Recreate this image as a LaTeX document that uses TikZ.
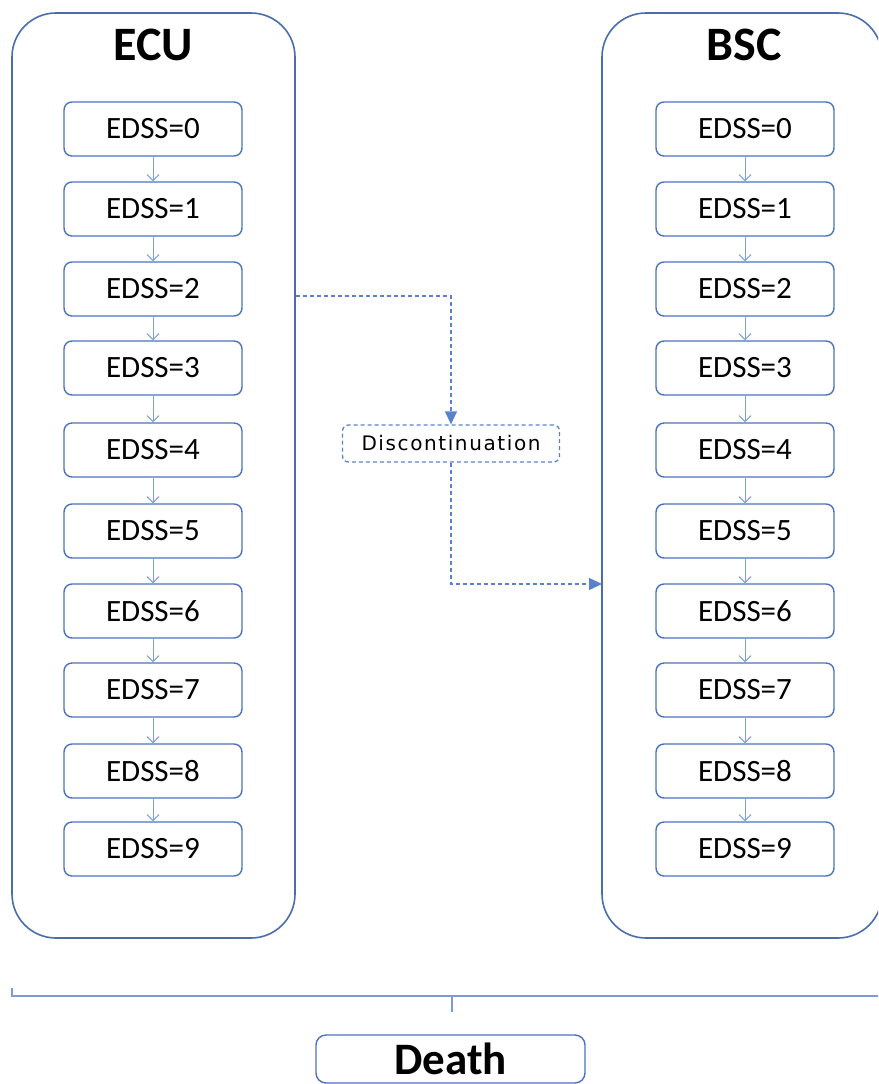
\documentclass[tikz,border=0pt]{standalone}
\usepackage{fontspec}
\setmainfont{Carlito}
\newfontfamily\discfont[LetterSpace=8]{DejaVu Sans}
\usetikzlibrary{arrows.meta}
\definecolor{contc}{HTML}{4A6DAD}
\definecolor{boxc}{HTML}{4A72BE}
\definecolor{arrc}{HTML}{7F9FD8}
\definecolor{dashc}{HTML}{5A82CC}
\definecolor{brackc}{HTML}{7F9BD4}
\tikzset{
  container/.style={draw=contc, line width=1.6pt, rounded corners=44pt, inner sep=0pt},
  title/.style={font=\bfseries\fontsize{48}{52}\selectfont, inner sep=0pt, text=black},
  edssbox/.style={draw=boxc, line width=1.4pt, rounded corners=8pt, minimum width=178pt, minimum height=54pt, inner sep=0pt, font=\fontsize{31}{36}\selectfont, text=black},
  discbox/.style={draw=dashc, line width=1.3pt, dash pattern=on 4pt off 3pt, rounded corners=6pt, minimum width=217pt, minimum height=37pt, inner sep=0pt, font=\discfont\fontsize{20}{24}\selectfont, text=black},
  deathbox/.style={draw=boxc, line width=1.4pt, rounded corners=10pt, minimum width=269pt, minimum height=48pt, inner sep=0pt, text depth=0pt, font=\bfseries\fontsize{45}{48}\selectfont, text=black},
  smallarrow/.style={draw=arrc, line width=1pt, -{Straight Barb[length=6pt,width=12pt,line width=1pt]}},
  dasharrow/.style={draw=dashc, line width=1.3pt, dash pattern=on 4pt off 3pt, -{Triangle[length=13pt,width=12pt]}},
  bracket/.style={draw=brackc, line width=1.5pt}
}
\begin{document}
\begin{tikzpicture}[x=1pt,y=-1pt]
\useasboundingbox (0,0) rectangle (878,1084);
\clip (0,0) rectangle (878,1084);
% containers
\node[container, minimum width=283pt, minimum height=925pt] (ecu) at (153.5,475.5) {};
\node[container, minimum width=280pt, minimum height=925pt] (bsc) at (742,475.5) {};
\node[title] (ecut) at (153,45) {ECU};
\node[title] (bsct) at (744,45) {BSC};
% EDSS boxes
\foreach \i/\y in {0/129,1/209,2/289,3/368,4/450,5/531,6/611,7/690,8/771,9/849}{
  \node[edssbox] (L\i) at (153,\y) {EDSS=\i};
  \node[edssbox] (R\i) at (745,\y) {EDSS=\i};
}
\foreach \i in {0,...,8}{
  \pgfmathtruncatemacro\j{\i+1}
  \draw[smallarrow] (L\i.south) -- (L\j.north);
  \draw[smallarrow] (R\i.south) -- (R\j.north);
}
% discontinuation
\node[discbox] (disc) at (451,443.5) {Discontinuation};
\coordinate (d1) at (296,296);
\coordinate (d2) at (602,584);
\draw[dasharrow] (d1) -| (disc.north);
\draw[dasharrow] (disc.south) |- (d2);
% bracket and death
\coordinate (b1) at (12,988);
\coordinate (b2) at (12,996);
\coordinate (b3) at (880,996);
\coordinate (bm) at (452,996);
\coordinate (bt) at (452,1012);
\draw[bracket] (b1) -- (b2) -- (b3);
\draw[bracket] (bm) -- (bt);
\node[deathbox] (death) at (450.5,1059) {Death};
\end{tikzpicture}
\end{document}
